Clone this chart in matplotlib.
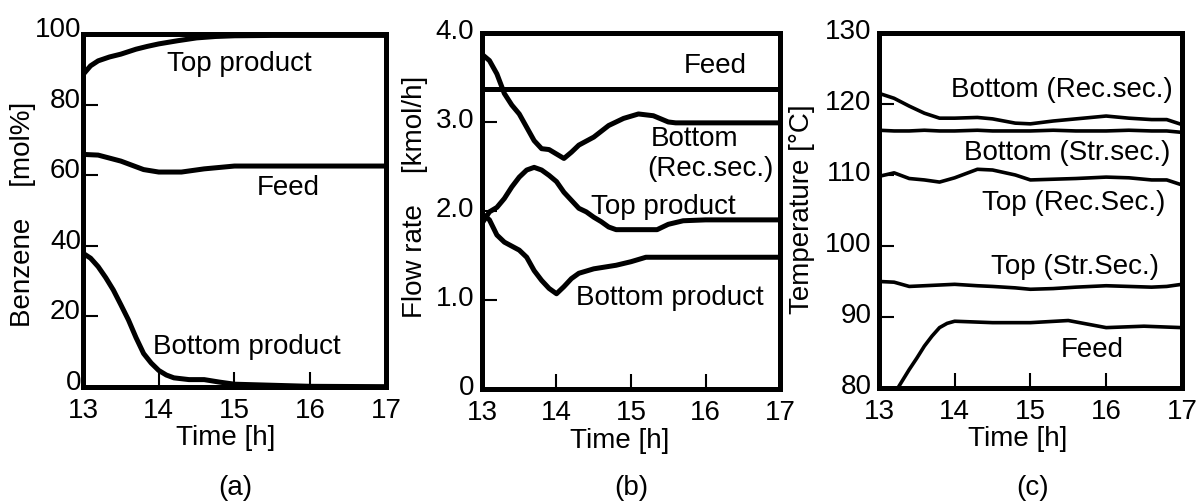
import matplotlib.pyplot as plt
import matplotlib.transforms as mtransforms

plt.rcParams['font.family'] = ['Liberation Sans', 'DejaVu Sans']
plt.rcParams['font.size'] = 20

# (a) benzene concentration [mol%]
t_a_top = [13.0, 13.1, 13.2, 13.35, 13.5, 13.7, 13.85, 14.0, 14.25, 14.5, 14.75, 15.0, 15.5, 16.0, 17.0]
top_a = [88.5, 91.0, 92.4, 93.5, 94.3, 95.7, 96.5, 97.2, 98.1, 98.9, 99.3, 99.5, 99.6, 99.6, 99.6]
t_a_feed = [13.0, 13.2, 13.5, 13.8, 14.0, 14.3, 14.6, 15.0, 16.0, 17.0]
feed_a = [65.9, 65.7, 64.0, 61.6, 60.9, 60.9, 61.8, 62.6, 62.6, 62.6]
t_a_bot = [13.0, 13.1, 13.2, 13.3, 13.4, 13.5, 13.6, 13.7, 13.8, 13.9, 14.0, 14.1, 14.2, 14.4, 14.6, 14.8, 15.0, 15.5, 16.0, 17.0]
bot_a = [37.9, 36.5, 34.1, 31.0, 27.5, 23.3, 19.0, 14.0, 9.5, 6.8, 4.7, 3.4, 2.6, 2.1, 2.1, 1.4, 0.8, 0.5, 0.2, 0.1]

# (b) flow rate [kmol/h]
t_b_feed = [13.0, 17.0]
feed_b = [3.37, 3.37]
t_b_rec = [13.0, 13.1, 13.2, 13.3, 13.4, 13.5, 13.6, 13.7, 13.8, 13.9, 14.0, 14.1, 14.2, 14.3, 14.5,
           14.7, 14.9, 15.1, 15.3, 15.5, 15.6, 17.0]
rec_b = [3.76, 3.69, 3.54, 3.32, 3.19, 3.09, 2.94, 2.79, 2.70, 2.69, 2.64, 2.59, 2.66, 2.74, 2.83,
         2.96, 3.04, 3.09, 3.07, 3.00, 2.99, 2.99]
t_b_top = [13.0, 13.1, 13.2, 13.3, 13.4, 13.5, 13.6, 13.7, 13.8, 13.9, 14.0, 14.1, 14.2, 14.3, 14.4,
           14.5, 14.6, 14.7, 14.8, 15.35, 15.5, 15.7, 16.0, 17.0]
top_b = [1.86, 1.99, 2.04, 2.14, 2.27, 2.38, 2.46, 2.49, 2.46, 2.40, 2.33, 2.21, 2.12, 2.03, 1.99,
         1.93, 1.88, 1.82, 1.79, 1.79, 1.85, 1.89, 1.90, 1.90]
t_b_bot = [13.0, 13.1, 13.2, 13.3, 13.5, 13.6, 13.7, 13.8, 13.9, 14.0, 14.1, 14.2, 14.3, 14.5,
           14.8, 15.0, 15.2, 15.5, 17.0]
bot_b = [1.97, 1.90, 1.73, 1.65, 1.56, 1.48, 1.33, 1.22, 1.13, 1.07, 1.15, 1.24, 1.30, 1.35,
         1.39, 1.43, 1.48, 1.48, 1.48]

# (c) temperature [°C]
t_c = [13.0, 13.2, 13.4, 13.6, 13.8, 14.0, 14.3, 14.5, 14.8, 15.0, 15.3, 15.6, 16.0, 16.3, 16.6, 16.8, 17.0]
bot_rec_c = [121.5, 120.8, 119.7, 118.7, 118.0, 118.0, 118.1, 117.9, 117.3, 117.2, 117.6, 117.9, 118.3, 118.0, 117.8, 117.8, 117.1]
bot_str_c = [116.3, 116.2, 116.2, 116.3, 116.2, 116.2, 116.3, 116.2, 116.2, 116.2, 116.3, 116.2, 116.2, 116.3, 116.2, 116.2, 116.0]
top_rec_c = [109.8, 110.3, 109.5, 109.3, 109.0, 109.6, 110.8, 110.7, 110.0, 109.3, 109.4, 109.5, 109.7, 109.6, 109.3, 109.3, 108.6]
top_str_c = [95.0, 94.9, 94.3, 94.4, 94.5, 94.6, 94.4, 94.3, 94.1, 93.9, 94.0, 94.2, 94.4, 94.3, 94.2, 94.3, 94.6]
t_c_feed = [13.0, 13.25, 13.4, 13.5, 13.6, 13.7, 13.8, 13.9, 14.0, 14.5, 15.0, 15.5, 15.8, 16.0, 16.5, 17.0]
feed_c = [76.5, 80.0, 82.6, 84.2, 85.9, 87.3, 88.5, 89.1, 89.4, 89.2, 89.2, 89.5, 88.9, 88.5, 88.7, 88.5]

fig = plt.figure(figsize=(11.96, 5.01), dpi=100)
ax_a = fig.add_axes([0.0694, 0.2275, 0.2533, 0.7046])
ax_b = fig.add_axes([0.4030, 0.2236, 0.2492, 0.7106])
ax_c = fig.add_axes([0.7349, 0.2256, 0.2533, 0.7086])

lw = 3.6
# per panel: y tick pad, y tick label lift (px), ylabel x, ylabel y, xlabel x
layout = {ax_a: (1.5, 7, -0.198, 0.49, 0.47),
          ax_b: (5.5, 4, -0.225, 0.54, 0.463),
          ax_c: (5.5, 4, -0.254, 0.504, 0.459)}
for ax in (ax_a, ax_b, ax_c):
    ax.set_xlim(13, 17)
    ax.set_xticks([13, 14, 15, 16, 17])
    for s in ax.spines.values():
        s.set_linewidth(lw)
    ax.tick_params(direction='in', length=11, width=1.5, top=False, right=False)
    ax.tick_params(axis='x', pad=8)
    ax.set_xlabel('Time [h]')

# panel (a)
ax_a.plot(t_a_top, top_a, color='black', lw=3.6, solid_joinstyle='round')
ax_a.plot(t_a_feed, feed_a, color='black', lw=3.6, solid_joinstyle='round')
ax_a.plot(t_a_bot, bot_a, color='black', lw=3.6, solid_joinstyle='round')
ax_a.set_ylim(0, 100)
ax_a.set_yticks([0, 20, 40, 60, 80, 100])
ax_a.set_ylabel('Benzene    [mol%]')
ax_a.text(15.07, 91.5, 'Top product', ha='center', va='center')
ax_a.text(15.71, 56.4, 'Feed', ha='center', va='center')
ax_a.text(15.16, 11.4, 'Bottom product', ha='center', va='center')

# panel (b)
ax_b.plot(t_b_feed, feed_b, color='black', lw=3.6)
ax_b.plot(t_b_rec, rec_b, color='black', lw=3.6, solid_joinstyle='round')
ax_b.plot(t_b_top, top_b, color='black', lw=3.6, solid_joinstyle='round')
ax_b.plot(t_b_bot, bot_b, color='black', lw=3.6, solid_joinstyle='round')
ax_b.set_ylim(0, 4)
ax_b.set_yticks([0, 1, 2, 3, 4])
ax_b.set_yticklabels(['0', '1.0', '2.0', '3.0', '4.0'])
ax_b.set_ylabel('Flow rate    [kmol/h]')
ax_b.text(16.13, 3.63, 'Feed', ha='center', va='center')
ax_b.text(15.85, 2.81, 'Bottom', ha='center', va='center')
ax_b.text(16.06, 2.47, '(Rec.sec.)', ha='center', va='center')
ax_b.text(15.44, 2.04, 'Top product', ha='center', va='center')
ax_b.text(15.52, 1.02, 'Bottom product', ha='center', va='center')

# panel (c)
for y in (bot_rec_c, bot_str_c, top_rec_c, top_str_c):
    ax_c.plot(t_c, y, color='black', lw=2.6, solid_joinstyle='round')
ax_c.plot(t_c_feed, feed_c, color='black', lw=2.6, solid_joinstyle='round')
ax_c.set_ylim(80, 130)
ax_c.set_yticks([80, 90, 100, 110, 120, 130])
ax_c.set_ylabel('Temperature [°C]')
ax_c.text(15.42, 122.0, 'Bottom (Rec.sec.)', ha='center', va='center')
ax_c.text(15.48, 113.1, 'Bottom (Str.sec.)', ha='center', va='center')
ax_c.text(15.57, 106.0, 'Top (Rec.Sec.)', ha='center', va='center')
ax_c.text(15.59, 97.1, 'Top (Str.Sec.)', ha='center', va='center')
ax_c.text(15.81, 85.4, 'Feed', ha='center', va='center')

for ax, (ypad, lift, ylx, yly, xlx) in layout.items():
    ax.tick_params(axis='y', pad=ypad)
    shift = mtransforms.ScaledTranslation(0, lift / 100, fig.dpi_scale_trans)
    for lab in ax.get_yticklabels():
        lab.set_transform(lab.get_transform() + shift)
    ax.yaxis.set_label_coords(ylx, yly)
    ax.yaxis.label.set_verticalalignment('center')
    ax.xaxis.set_label_coords(xlx, -0.145)
    ax.xaxis.label.set_verticalalignment('center')

fig.text(235 / 1196, 1 - 488 / 501, '(a)', ha='center', va='center')
fig.text(631 / 1196, 1 - 488 / 501, '(b)', ha='center', va='center')
fig.text(1033 / 1196, 1 - 488 / 501, '(c)', ha='center', va='center')

fig.savefig('out.png', dpi=100)
